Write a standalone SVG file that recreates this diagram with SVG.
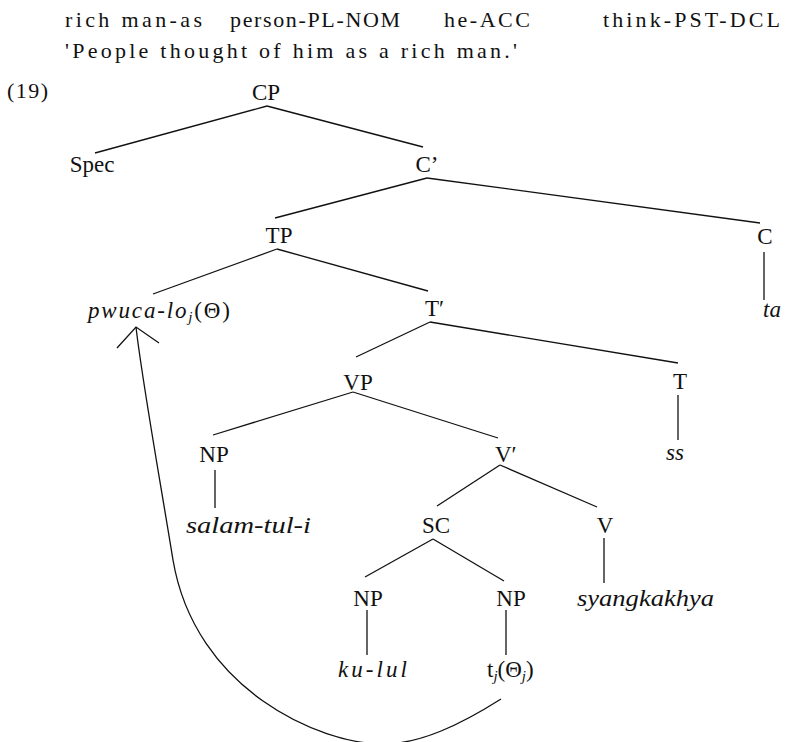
<svg xmlns="http://www.w3.org/2000/svg" width="787" height="742" viewBox="0 0 787 742">
<rect width="787" height="742" fill="#fff"/>
<g id="header">
<text x="65" y="27" font-family="Liberation Serif" font-size="22" fill="#111" textLength="137" lengthAdjust="spacing">rich man-as</text>
<text x="230" y="27" font-family="Liberation Serif" font-size="22" fill="#111" textLength="170" lengthAdjust="spacing">person-PL-NOM</text>
<text x="444" y="27" font-family="Liberation Serif" font-size="22" fill="#111" textLength="86" lengthAdjust="spacing">he-ACC</text>
<text x="603" y="27" font-family="Liberation Serif" font-size="22" fill="#111" textLength="177" lengthAdjust="spacing">think-PST-DCL</text>
<text x="65" y="58" font-family="Liberation Serif" font-size="22" fill="#111" textLength="452" lengthAdjust="spacing">'People thought of him as a rich man.'</text>
<text x="7" y="98" font-family="Liberation Serif" font-size="22" fill="#111" textLength="41" lengthAdjust="spacing">(19)</text>
</g>
<g id="n-CP"><text x="266" y="100" font-family="Liberation Serif" font-size="23" fill="#111" text-anchor="middle">CP</text></g>
<g id="n-Spec"><text x="92" y="172" font-family="Liberation Serif" font-size="23" fill="#111" text-anchor="middle">Spec</text></g>
<g id="n-Cbar"><text x="427" y="172" font-family="Liberation Serif" font-size="23" fill="#111" text-anchor="middle">C’</text></g>
<g id="n-TP"><text x="279" y="243" font-family="Liberation Serif" font-size="23" fill="#111" text-anchor="middle">TP</text></g>
<g id="n-C"><text x="765" y="244" font-family="Liberation Serif" font-size="23" fill="#111" text-anchor="middle">C</text></g>
<g id="n-ta"><text x="763" y="317" font-family="Liberation Serif" font-size="23" fill="#111" font-style="italic">ta</text></g>
<g id="n-pwuca"><text x="88" y="318" font-family="Liberation Serif" font-size="23" fill="#111" font-style="italic" textLength="142" lengthAdjust="spacing">pwuca-lo<tspan font-size="15" dy="4">j</tspan><tspan font-style="normal" dy="-4">(Θ)</tspan></text></g>
<g id="n-Tbar"><text x="425" y="316" font-family="Liberation Serif" font-size="23" fill="#111">T′</text></g>
<g id="n-VP"><text x="358" y="390" font-family="Liberation Serif" font-size="23" fill="#111" text-anchor="middle">VP</text></g>
<g id="n-T"><text x="680" y="389" font-family="Liberation Serif" font-size="23" fill="#111" text-anchor="middle">T</text></g>
<g id="n-ss"><text x="666" y="460" font-family="Liberation Serif" font-size="23" fill="#111" font-style="italic">ss</text></g>
<g id="n-NP1"><text x="214" y="462" font-family="Liberation Serif" font-size="23" fill="#111" text-anchor="middle">NP</text></g>
<g id="n-salam"><text x="186" y="533" font-family="Liberation Serif" font-size="23" fill="#111" font-style="italic" textLength="125" lengthAdjust="spacingAndGlyphs">salam-tul-i</text></g>
<g id="n-Vbar"><text x="495" y="462" font-family="Liberation Serif" font-size="23" fill="#111">V′</text></g>
<g id="n-SC"><text x="436" y="533" font-family="Liberation Serif" font-size="23" fill="#111" text-anchor="middle">SC</text></g>
<g id="n-V"><text x="605" y="533" font-family="Liberation Serif" font-size="23" fill="#111" text-anchor="middle">V</text></g>
<g id="n-syang"><text x="577" y="606" font-family="Liberation Serif" font-size="23" fill="#111" font-style="italic" textLength="137" lengthAdjust="spacingAndGlyphs">syangkakhya</text></g>
<g id="n-NP2"><text x="368" y="606" font-family="Liberation Serif" font-size="23" fill="#111" text-anchor="middle">NP</text></g>
<g id="n-NP3"><text x="511" y="606" font-family="Liberation Serif" font-size="23" fill="#111" text-anchor="middle">NP</text></g>
<g id="n-kulul"><text x="338" y="677" font-family="Liberation Serif" font-size="23" fill="#111" font-style="italic" textLength="69" lengthAdjust="spacing">ku-lul</text></g>
<g id="n-trace"><text x="487" y="677" font-family="Liberation Serif" font-size="23" fill="#111">t<tspan font-size="15" font-style="italic" dy="4">j</tspan><tspan dy="-4">(Θ</tspan><tspan font-size="15" font-style="italic" dy="4">j</tspan><tspan dy="-4">)</tspan></text></g>
<g id="connectors" stroke="#111" stroke-width="1.3" fill="none">
<line x1="267" y1="106" x2="95" y2="153"/>
<line x1="267" y1="106" x2="423" y2="147"/>
<line x1="427" y1="178" x2="275" y2="218"/>
<line x1="427" y1="178" x2="760" y2="223"/>
<line x1="764" y1="252" x2="764" y2="300"/>
<line x1="277" y1="249" x2="153" y2="294"/>
<line x1="277" y1="249" x2="428" y2="291"/>
<line x1="430" y1="322" x2="356" y2="357"/>
<line x1="430" y1="322" x2="678" y2="363"/>
<line x1="678" y1="395" x2="678" y2="440"/>
<line x1="353" y1="392" x2="213" y2="435"/>
<line x1="353" y1="392" x2="498" y2="438"/>
<line x1="215" y1="470" x2="215" y2="508"/>
<line x1="500" y1="465" x2="437" y2="506"/>
<line x1="500" y1="465" x2="597" y2="507"/>
<line x1="604" y1="538" x2="604" y2="583"/>
<line x1="433" y1="539" x2="365" y2="577"/>
<line x1="433" y1="539" x2="504" y2="581"/>
<line x1="367" y1="610" x2="367" y2="655"/>
<line x1="506" y1="610" x2="506" y2="655"/>
<path d="M501,699 C460,725 420,744 383,744 C320,744 195,690 173,560 C160,480 142,380 136,327"/>
<polyline points="117,348 136,327 159,343"/>
</g>
</svg>
